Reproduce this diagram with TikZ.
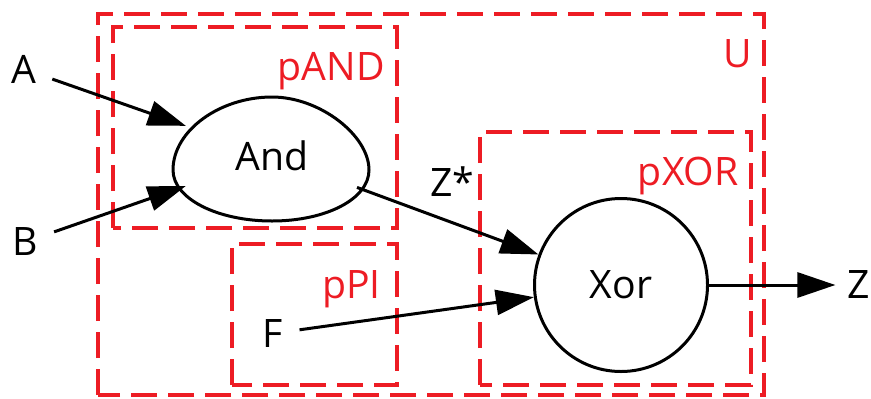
\documentclass[tikz,border=0pt]{standalone}
\usepackage{fontspec}
\setmainfont{Open Sans}
\usetikzlibrary{arrows.meta,shapes.geometric}
\definecolor{partred}{RGB}{237,28,36}
\tikzset{
	part/.style={draw=partred, line width=1.7pt, dash pattern=on 13pt off 5.5pt},
	partlabel/.style={text=partred, anchor=base east, inner sep=0pt},
	wire/.style={line width=1.5pt, -{Triangle[length=19pt,width=12.5pt]}},
	port/.style={inner sep=8pt}
}

\begin{document}
\begin{tikzpicture}[x=25pt, y=25pt, font=\fontsize{19.6}{24}\selectfont]
		\useasboundingbox (0,0) rectangle (17.42,7.96);
		% partitions
		\draw[part] (1.96,0.06) rectangle (15.28,7.68);
		\draw[part] (2.26,3.40) rectangle (7.94,7.42);
		\draw[part] (4.64,0.26) rectangle (7.94,3.08);
		\draw[part] (9.60,0.26) rectangle (15.02,5.32);
		% names of the partitions
		\node[partlabel] (lU) at (15.04,6.62) {U};
		\node[partlabel] (lAND) at (7.70,6.36) {pAND};
		\node[partlabel] (lPI) at (7.62,2.00) {pPI};
		\node[partlabel] (lXOR) at (14.78,4.26) {pXOR};
		% And block (egg)
		\node[ellipse, minimum width=98pt, minimum height=62pt, inner sep=0pt] (and) at (5.44,4.84) {And};
		\draw[line width=1.5pt] (7.38,4.56) .. controls (7.38,5.25) and (6.40,6.02) .. (5.44,6.02)
			.. controls (4.40,6.02) and (3.46,5.35) .. (3.46,4.56)
			.. controls (3.46,3.98) and (4.36,3.54) .. (5.44,3.54)
			.. controls (6.52,3.54) and (7.38,3.98) .. (7.38,4.56) -- cycle;
		% Xor block
		\node[circle, draw, line width=1.5pt, minimum size=86.5pt] (xor) at (12.42,2.26) {Xor};
		% inputs, internal signal and output
		\node[port] (a) at (0.47,6.58) {A};
		\node[port] (b) at (0.50,3.12) {B};
		\node[port] (f) at (5.46,1.29) {F};
		\node[port, inner sep=6pt] (z) at (17.18,2.26) {Z};
		\node (zs) at (9.04,4.32) {Z*};
		% connectors
		\draw[wire] (a) -- (and);
		\draw[wire] (b) -- (and);
		\draw[wire] (and) -- (xor);
		\draw[wire] (f) -- (xor);
		\draw[wire] (xor) -- (z);
	\end{tikzpicture}
\end{document}
